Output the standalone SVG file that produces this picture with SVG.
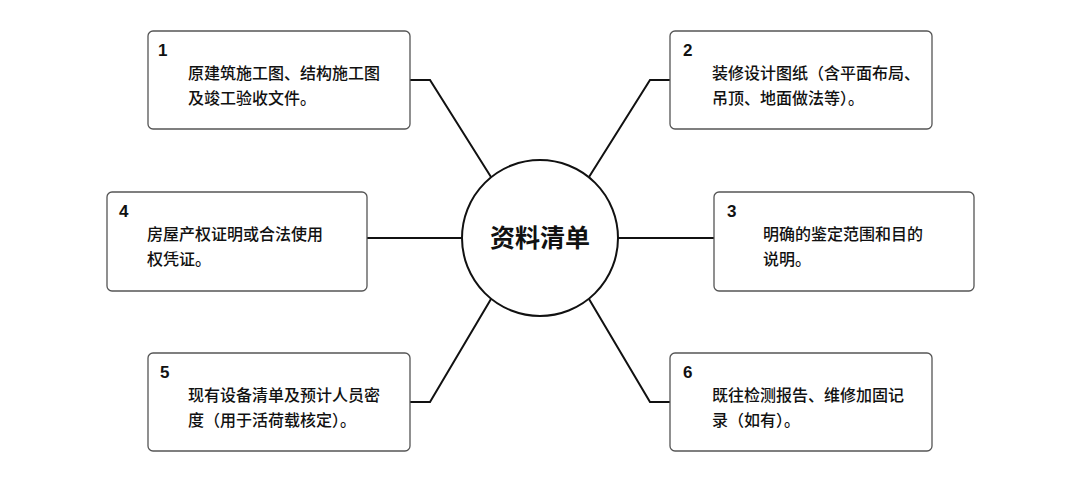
<svg xmlns="http://www.w3.org/2000/svg" width="1080" height="481" viewBox="0 0 1080 481">
<style>
.box{fill:#fff;stroke:#555;stroke-width:1.3}
.num{font-family:"Liberation Sans",sans-serif;font-weight:bold;font-size:17px;fill:#111}
.t{font-family:"Noto Sans CJK SC",sans-serif;font-size:16px;font-weight:500;fill:#111}
.c{fill:none;stroke:#111;stroke-width:2}
</style>
<rect width="1080" height="481" fill="#fff"/>
<g id="connectors" class="c">
<polyline points="410,80 430,80 491,177"/>
<polyline points="670,80 650,80 589,177"/>
<polyline points="367,238 462,238"/>
<polyline points="714,238 618,238"/>
<polyline points="410,402 430,402 491,299"/>
<polyline points="670,402 650,402 589,299"/>
</g>
<g id="center">
<circle cx="540" cy="238" r="78" fill="#fff" stroke="#111" stroke-width="2"/>
<text x="540" y="247" text-anchor="middle" font-family="Noto Sans CJK SC,sans-serif" font-weight="bold" font-size="25" fill="#111">资料清单</text>
</g>
<g id="n1"><rect class="box" x="148" y="31" width="262" height="98" rx="5"/><text class="num" x="158" y="56">1</text><text class="t" x="188" y="79">原建筑施工图、结构施工图</text><text class="t" x="188" y="104">及竣工验收文件。</text></g>
<g id="n2"><rect class="box" x="670" y="31" width="262" height="98" rx="5"/><text class="num" x="683" y="56">2</text><text class="t" x="712" y="79">装修设计图纸（含平面布局、</text><text class="t" x="712" y="104">吊顶、地面做法等）。</text></g>
<g id="n4"><rect class="box" x="107" y="192" width="260" height="99" rx="5"/><text class="num" x="119" y="217">4</text><text class="t" x="147" y="240">房屋产权证明或合法使用</text><text class="t" x="147" y="265">权凭证。</text></g>
<g id="n3"><rect class="box" x="714" y="192" width="260" height="99" rx="5"/><text class="num" x="727" y="217">3</text><text class="t" x="763" y="240">明确的鉴定范围和目的</text><text class="t" x="763" y="265">说明。</text></g>
<g id="n5"><rect class="box" x="148" y="353" width="262" height="98" rx="5"/><text class="num" x="160" y="378">5</text><text class="t" x="188" y="401">现有设备清单及预计人员密</text><text class="t" x="188" y="426">度（用于活荷载核定）。</text></g>
<g id="n6"><rect class="box" x="670" y="353" width="262" height="98" rx="5"/><text class="num" x="683" y="378">6</text><text class="t" x="712" y="401">既往检测报告、维修加固记</text><text class="t" x="712" y="426">录（如有）。</text></g>
</svg>
